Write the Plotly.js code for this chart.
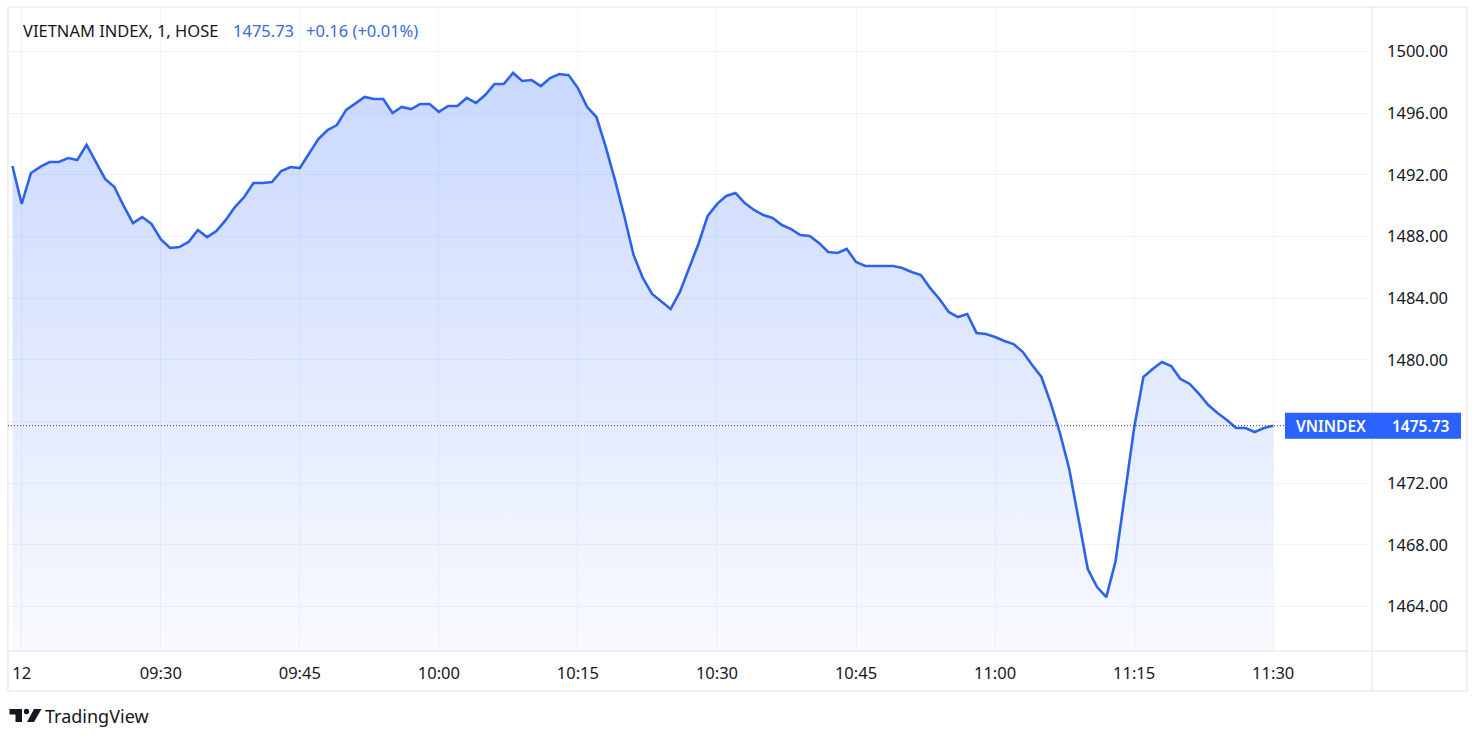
<!DOCTYPE html>
<html>
<head>
<meta charset="utf-8">
<script src="https://cdn.plot.ly/plotly-3.0.1.min.js"></script>
<style>
  html, body { margin: 0; padding: 0; background: #ffffff; }
  #chart { width: 1483px; height: 745px; }
</style>
</head>
<body>
<div id="chart"></div>
<script>
// ---------------- DATA ----------------
const sessionDate = "2022-01-12";
const symbolTitle = "VIETNAM INDEX, 1, HOSE";
const lastPriceText = "1475.73";
const changeText = "+0.16 (+0.01%)";
const priceLabelName = "VNINDEX";

const times = [
  "09:14","09:15","09:16","09:17","09:18","09:19","09:20","09:21","09:22","09:23","09:24",
  "09:25","09:26","09:27","09:28","09:29","09:30","09:31","09:32","09:33","09:34",
  "09:35","09:36","09:37","09:38","09:39","09:40","09:41","09:42","09:43","09:44",
  "09:45","09:46","09:47","09:48","09:49","09:50","09:51","09:52","09:53","09:54",
  "09:55","09:56","09:57","09:58","09:59","10:00","10:01","10:02","10:03","10:04",
  "10:05","10:06","10:07","10:08","10:09","10:10","10:11","10:12","10:13","10:14",
  "10:15","10:16","10:17","10:18","10:19","10:20","10:21","10:22","10:23","10:24",
  "10:25","10:26","10:27","10:28","10:29","10:30","10:31","10:32","10:33","10:34",
  "10:35","10:36","10:37","10:38","10:39","10:40","10:41","10:42","10:43","10:44",
  "10:45","10:46","10:47","10:48","10:49","10:50","10:51","10:52","10:53","10:54",
  "10:55","10:56","10:57","10:58","10:59","11:00","11:01","11:02","11:03","11:04",
  "11:05","11:06","11:07","11:08","11:09","11:10","11:11","11:12","11:13","11:14",
  "11:15","11:16","11:17","11:18","11:19","11:20","11:21","11:22","11:23","11:24",
  "11:25","11:26","11:27","11:28","11:29","11:30"
];

const closeValues = [
  1492.58,1490.12,1492.13,1492.52,1492.84,1492.84,1493.10,1492.97,1493.95,1492.84,1491.74,
  1491.22,1489.99,1488.88,1489.27,1488.82,1487.84,1487.26,1487.32,1487.65,1488.43,
  1487.97,1488.36,1489.07,1489.92,1490.57,1491.48,1491.48,1491.54,1492.26,1492.52,
  1492.45,1493.36,1494.33,1494.92,1495.24,1496.22,1496.67,1497.06,1496.93,1496.93,
  1496.02,1496.41,1496.28,1496.61,1496.61,1496.09,1496.48,1496.48,1497.00,1496.67,
  1497.19,1497.90,1497.90,1498.62,1498.10,1498.16,1497.77,1498.29,1498.55,1498.48,
  1497.64,1496.41,1495.76,1493.82,1491.66,1489.34,1486.81,1485.32,1484.28,1483.76,
  1483.30,1484.41,1485.96,1487.52,1489.34,1490.11,1490.64,1490.83,1490.18,1489.73,
  1489.40,1489.21,1488.75,1488.49,1488.10,1488.04,1487.59,1487.00,1486.94,1487.20,
  1486.35,1486.09,1486.09,1486.09,1486.09,1485.96,1485.70,1485.51,1484.66,1483.95,
  1483.11,1482.78,1482.98,1481.75,1481.68,1481.49,1481.23,1481.03,1480.51,1479.67,
  1478.89,1477.20,1475.25,1472.92,1469.61,1466.43,1465.26,1464.61,1466.95,1471.10,
  1475.58,1478.89,1479.41,1479.86,1479.60,1478.76,1478.44,1477.79,1477.07,1476.55,
  1476.10,1475.58,1475.58,1475.32,1475.58,1475.73
];

const xTickTimes = ["09:15","09:30","09:45","10:00","10:15","10:30","10:45","11:00","11:15","11:30"];
const xTickLabels = ["12","09:30","09:45","10:00","10:15","10:30","10:45","11:00","11:15","11:30"];

const yTickValues = [1464,1468,1472,1476,1480,1484,1488,1492,1496,1500];
const yTickLabels = ["1464.00","1468.00","1472.00","","1480.00","1484.00","1488.00","1492.00","1496.00","1500.00"];

const lastValue = 1475.73;

// ---------------- LAYOUT HELPERS ----------------
const FONT = '"Noto Sans", "Open Sans", "DejaVu Sans", sans-serif';
const TXT = '#131722';
const BLUE = '#2962ff';
const LINE = '#2d63e8';
const FRAME = '#e0e3eb';
const GRID = '#f0f3fa';

const ML = 8, MT = 7, PR = 1372, PB = 651;       // plot area in px
const PW = PR - ML, PH = PB - MT;
const px = v => (v - ML) / PW;                    // pixel -> paper x
const py = v => (PB - v) / PH;                    // pixel -> paper y

const xs = times.map(t => sessionDate + " " + t);
const xTickVals = xTickTimes.map(t => sessionDate + " " + t);

const trace = {
  type: 'scatter',
  mode: 'lines',
  x: xs,
  y: closeValues,
  line: { color: LINE, width: 2.6, shape: 'linear' },
  fill: 'tozeroy',
  fillgradient: {
    type: 'vertical',
    start: 1461.1,
    stop: 1499,
    colorscale: [[0, 'rgba(41,98,255,0.03)'], [1, 'rgba(41,98,255,0.25)']]
  },
  hoverinfo: 'skip'
};

const frameLine = (x0, y0, x1, y1) => ({
  type: 'line', xref: 'paper', yref: 'paper',
  x0: x0, y0: y0, x1: x1, y1: y1,
  line: { color: FRAME, width: 1 }, layer: 'above'
});

const rightEdge = px(1467), bottomEdge = py(691);

const shapes = [
  frameLine(0, 1, rightEdge, 1),
  frameLine(0, bottomEdge, rightEdge, bottomEdge),
  frameLine(0, 0, rightEdge, 0),
  frameLine(0, bottomEdge, 0, 1),
  frameLine(1, bottomEdge, 1, 1),
  frameLine(rightEdge, bottomEdge, rightEdge, 1),
  // last price dotted line
  {
    type: 'line', xref: 'paper', yref: 'y',
    x0: 0, x1: px(1285), y0: lastValue, y1: lastValue,
    line: { color: '#2a3550', width: 1, dash: '1px,2px' }, layer: 'above'
  },
  // price label box
  {
    type: 'rect', xref: 'paper', yref: 'y',
    x0: px(1285), x1: px(1461),
    ysizemode: 'pixel', yanchor: lastValue, y0: -13, y1: 13,
    fillcolor: BLUE, line: { width: 0 }, layer: 'above'
  },
  // TradingView logo pieces
  {
    type: 'rect', xref: 'paper', yref: 'paper',
    x0: px(9.5), x1: px(22), y0: py(714.5), y1: py(709),
    fillcolor: TXT, line: { width: 0 }
  },
  {
    type: 'rect', xref: 'paper', yref: 'paper',
    x0: px(15.5), x1: px(22), y0: py(722), y1: py(709),
    fillcolor: TXT, line: { width: 0 }
  },
  {
    type: 'circle', xref: 'paper', yref: 'paper',
    x0: px(23.8), x1: px(29.2), y0: py(714.2), y1: py(708.8),
    fillcolor: TXT, line: { width: 0 }
  },
  {
    type: 'path', xref: 'paper', yref: 'paper',
    path: 'M ' + px(34) + ' ' + py(709) + ' L ' + px(41.5) + ' ' + py(709) +
          ' L ' + px(34) + ' ' + py(722) + ' L ' + px(27) + ' ' + py(722) + ' Z',
    fillcolor: TXT, line: { width: 0 }
  }
];

const annotations = [
  {
    xref: 'paper', yref: 'paper', x: px(21), y: py(31), xanchor: 'left', yanchor: 'middle',
    text: symbolTitle, showarrow: false,
    font: { family: FONT, size: 16.5, color: TXT }
  },
  {
    xref: 'paper', yref: 'paper', x: px(231), y: py(31), xanchor: 'left', yanchor: 'middle',
    text: lastPriceText, showarrow: false,
    font: { family: FONT, size: 16.5, color: '#3b6bd6' }
  },
  {
    xref: 'paper', yref: 'paper', x: px(304), y: py(31), xanchor: 'left', yanchor: 'middle',
    text: changeText, showarrow: false,
    font: { family: FONT, size: 16.5, color: '#3b6bd6' }
  },
  {
    xref: 'paper', yref: 'y', x: px(1294), y: lastValue, xanchor: 'left', yanchor: 'middle',
    text: priceLabelName, showarrow: false,
    font: { family: FONT, size: 15.5, color: '#ffffff', weight: 600 }
  },
  {
    xref: 'paper', yref: 'y', x: px(1452), y: lastValue, xanchor: 'right', yanchor: 'middle',
    text: lastPriceText, showarrow: false,
    font: { family: FONT, size: 15.5, color: '#ffffff', weight: 600 }
  },
  {
    xref: 'paper', yref: 'paper', x: px(43), y: py(716), xanchor: 'left', yanchor: 'middle',
    text: 'TradingView', showarrow: false,
    font: { family: FONT, size: 18, color: TXT }
  }
];

const layout = {
  width: 1483,
  height: 745,
  margin: { l: ML, r: 1483 - PR, t: MT, b: 745 - PB, pad: 0 },
  paper_bgcolor: '#ffffff',
  plot_bgcolor: '#ffffff',
  showlegend: false,
  hovermode: false,
  font: { family: FONT, color: TXT },
  xaxis: {
    type: 'date',
    range: [sessionDate + ' 09:13:31.3', sessionDate + ' 11:40:39.6'],
    tickmode: 'array',
    tickvals: xTickVals,
    ticktext: xTickLabels,
    showgrid: true, gridcolor: GRID, gridwidth: 1,
    zeroline: false, showline: false, ticks: '',
    ticklabelstandoff: 10,
    tickfont: { family: FONT, size: 16.5, color: TXT },
    fixedrange: true
  },
  yaxis: {
    side: 'right',
    range: [1461.11, 1502.9],
    tickmode: 'array',
    tickvals: yTickValues,
    ticktext: yTickLabels,
    showgrid: true, gridcolor: GRID, gridwidth: 1,
    zeroline: false, showline: false, ticks: '',
    ticklabelstandoff: 14,
    tickfont: { family: FONT, size: 16.5, color: TXT },
    fixedrange: true
  },
  shapes: shapes,
  annotations: annotations
};

Plotly.newPlot('chart', [trace], layout, { displayModeBar: false, staticPlot: true });
</script>
</body>
</html>
